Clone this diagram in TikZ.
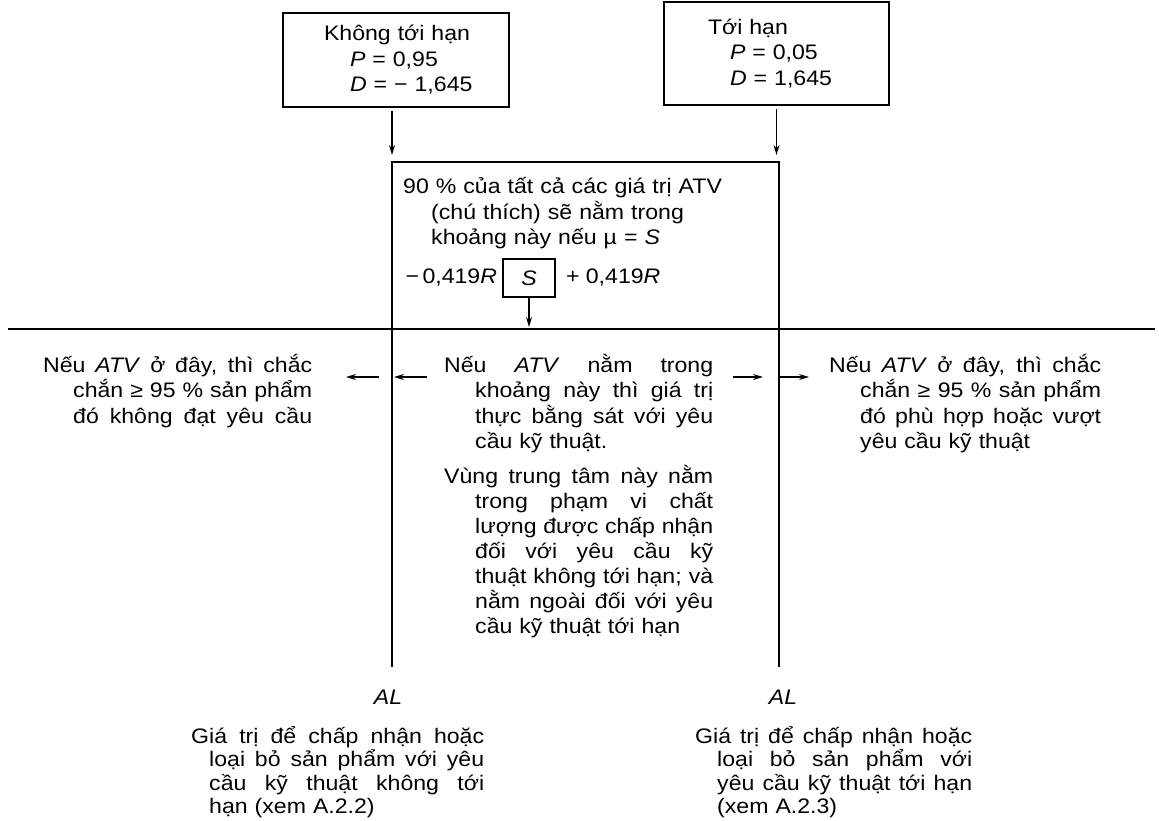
\documentclass[tikz,border=0pt]{standalone}
\usepackage{fontspec}
\setmainfont{Liberation Sans}[FakeStretch=1.1]
\usetikzlibrary{arrows.meta}
\usetikzlibrary{positioning}
\tikzstyle{limit_box} = [
    rectangle,
    draw=black,
    line width=1.6pt,
    align=left,
    inner ysep=0pt,
    font=\fontsize{21}{25.5}\selectfont
]
\tikzstyle{note_text} = [
    anchor=base west,
    align=left,
    text width=340pt,
    inner sep=0pt,
    font=\fontsize{21}{25.5}\selectfont
]
\tikzstyle{plain_text} = [
    inner sep=0pt,
    font=\fontsize{21}{25.5}\selectfont
]
\tikzstyle{frame_line} = [line width=1.3pt]
\tikzstyle{side_arrow} = [
    line width=1.3pt,
    -{Stealth[length=10pt, width=6pt]}
]
% justified line: give the spaces back their stretch
\newcommand{\fillto}[2]{\makebox[#1][s]{\spaceskip=0pt\xspaceskip=0pt #2}}
\newcommand{\indentby}[1]{\hspace*{#1}}
\begin{document}
\begin{tikzpicture}[x=1pt, y=-1pt]
\useasboundingbox (0,0) rectangle (1159,821);
% the two limit boxes
\node [limit_box, text width=166pt, inner xsep=30pt, minimum height=94pt] (noncrit) at (396,60)
    {\indentby{11pt}Không tới hạn\\ \indentby{37pt}\textit{P} = 0,95\\ \indentby{37pt}\textit{D} = − 1,645};
\node [limit_box, text width=137pt, inner xsep=44pt, minimum height=103pt] (crit) at (776.5,53.5)
    {Tới hạn\\ \indentby{22pt}\textit{P} = 0,05\\ \indentby{22pt}\textit{D} = 1,645};
% central frame and the AL line
\coordinate (ftl) at (392,162);
\coordinate (ftr) at (779,162);
\coordinate (fbl) at (392,667);
\coordinate (fbr) at (779,667);
\coordinate (hlw) at (8,329);
\coordinate (hle) at (1155,329);
\draw [frame_line] (fbl) -- (ftl) -- (ftr) -- (fbr);
\draw [frame_line] (hlw) -- (hle);
\draw [side_arrow, shorten <=3pt, shorten >=7pt] (noncrit.south -| ftl) -- (ftl);
\draw [side_arrow, shorten <=3pt, shorten >=7pt] (crit.south) -- (crit.south |- ftr);
% range inside the frame
\node [note_text] (range_note) at (403,194)
    {90 \% của tất cả các giá trị ATV\\ \indentby{28pt}(chú thích) sẽ nằm trong\\ \indentby{28pt}khoảng này nếu µ = \textit{S}};
\node [limit_box, minimum width=52pt, minimum height=38pt, inner sep=0pt] (sbox) at (529,278) {\textit{S}};
\node [plain_text, left=5pt of sbox] (low_lim) {−\,0,419\textit{R}};
\node [plain_text, right=10pt of sbox] (high_lim) {+ 0,419\textit{R}};
\draw [side_arrow, shorten >=2pt] (sbox.south) -- (sbox.south |- hlw);
% side arrows
\coordinate (left_out_a) at (379,377);
\coordinate (left_out_b) at (346,377);
\coordinate (left_in_a) at (427,377);
\coordinate (left_in_b) at (394,377);
\coordinate (right_in_a) at (733,377);
\coordinate (right_in_b) at (763,377);
\coordinate (right_out_a) at (780,377);
\coordinate (right_out_b) at (809,377);
\foreach \p in {left_out, left_in, right_in, right_out}
    \draw [side_arrow] (\p_a) -- (\p_b);
% notes below the line
\node [note_text] (left_note) at (43,372)
    {\fillto{269pt}{Nếu \textit{ATV} ở đây, thì chắc}\\
     \indentby{30pt}\fillto{239pt}{chắn ≥ 95 \% sản phẩm}\\
     \indentby{30pt}\fillto{239pt}{đó không đạt yêu cầu}};
\node [note_text] (inside_note) at (444,372)
    {\fillto{269pt}{Nếu \textit{ATV} nằm trong}\\
     \indentby{31pt}\fillto{238pt}{khoảng này thì giá trị}\\
     \indentby{31pt}\fillto{238pt}{thực bằng sát với yêu}\\
     \indentby{31pt}cầu kỹ thuật.};
\node [note_text, font=\fontsize{21}{25}\selectfont] (zone_note) at (444,483)
    {\fillto{269pt}{Vùng trung tâm này nằm}\\
     \indentby{31pt}\fillto{238pt}{trong phạm vi chất}\\
     \indentby{31pt}\fillto{238pt}{lượng được chấp nhận}\\
     \indentby{31pt}\fillto{238pt}{đối với yêu cầu kỹ}\\
     \indentby{31pt}\fillto{238pt}{thuật không tới hạn; và}\\
     \indentby{31pt}\fillto{238pt}{nằm ngoài đối với yêu}\\
     \indentby{31pt}cầu kỹ thuật tới hạn};
\node [note_text] (right_note) at (829,372)
    {\fillto{272pt}{Nếu \textit{ATV} ở đây, thì chắc}\\
     \indentby{31pt}\fillto{241pt}{chắn ≥ 95 \% sản phẩm}\\
     \indentby{31pt}\fillto{241pt}{đó phù hợp hoặc vượt}\\
     \indentby{31pt}yêu cầu kỹ thuật};
% acceptance limits
\node [plain_text] (al_left) at (388,697) {\textit{AL}};
\node [plain_text] (al_right) at (783,697) {\textit{AL}};
\node [note_text, font=\fontsize{21}{23.5}\selectfont] (al_left_note) at (191,743)
    {\fillto{293pt}{Giá trị để chấp nhận hoặc}\\
     \indentby{18pt}\fillto{275pt}{loại bỏ sản phẩm với yêu}\\
     \indentby{18pt}\fillto{275pt}{cầu kỹ thuật không tới}\\
     \indentby{18pt}hạn (xem A.2.2)};
\node [note_text, font=\fontsize{21}{23.5}\selectfont] (al_right_note) at (695,743)
    {\fillto{277pt}{Giá trị để chấp nhận hoặc}\\
     \indentby{22pt}\fillto{255pt}{loại bỏ sản phẩm với}\\
     \indentby{22pt}\fillto{255pt}{yêu cầu kỹ thuật tới hạn}\\
     \indentby{22pt}(xem A.2.3)};
\end{tikzpicture}
\end{document}
